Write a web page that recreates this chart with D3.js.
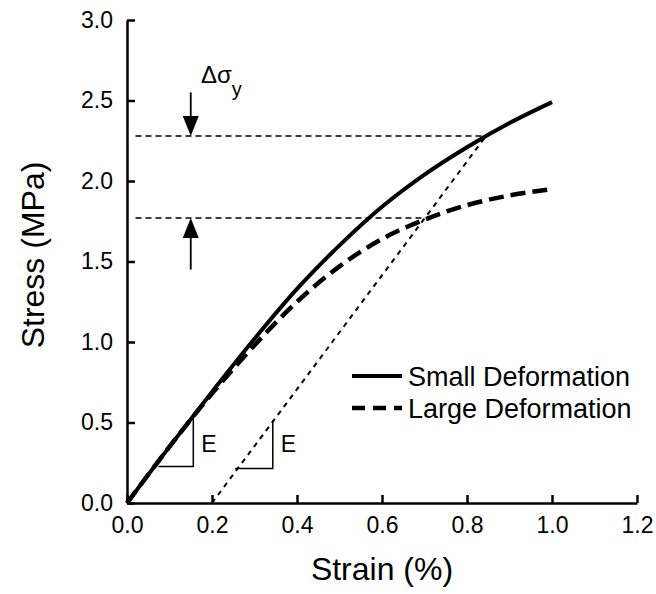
<!DOCTYPE html>
<html>
<head>
<meta charset="utf-8">
<script src="https://cdn.jsdelivr.net/npm/d3@7"></script>
<style>
  body { margin: 0; background: #fff; }
  text { font-family: "Liberation Sans", Arial, Helvetica, sans-serif; fill: #000; }
</style>
</head>
<body>
<div id="chart"></div>
<script>
// strain (%) sample points
const strain = [0, 0.1, 0.2, 0.3, 0.4, 0.5, 0.6, 0.7, 0.8, 0.9, 1.0];
// stress (MPa) for each curve
const stressSmall = [0, 0.35, 0.69, 1.02, 1.33, 1.60, 1.84, 2.04, 2.21, 2.36, 2.49];
const stressLarge = [0, 0.35, 0.68, 0.98, 1.25, 1.47, 1.64, 1.76, 1.85, 1.91, 1.95];

const xTicks = [0, 0.2, 0.4, 0.6, 0.8, 1.0, 1.2];
const yTicks = [0, 0.5, 1.0, 1.5, 2.0, 2.5, 3.0];

// yield levels and offset (0.2%) line
const yieldLevels = [2.28, 1.77];
const offsetLine = [[0.2, 0], [0.845, 2.28]];
const yieldEnds = [0.845, 0.70];
// modulus triangles: [x0, x1, y0, y1]
const modTriangles = [[0.074, 0.156, 0.226, 0.527], [0.254, 0.343, 0.215, 0.516]];
// arrows (strain, from, to)
const arrows = [[0.15, 2.55, 2.28], [0.15, 1.45, 1.77]];

const width = 656, height = 594;
const margin = {left: 127, top: 20, right: 19, bottom: 91};
const w = width - margin.left - margin.right;
const h = height - margin.top - margin.bottom;

const svg = d3.select("#chart").append("svg")
    .attr("width", width)
    .attr("height", height);

const g = svg.append("g")
    .attr("transform", `translate(${margin.left},${margin.top})`);

const x = d3.scaleLinear().domain([0, 1.2]).range([0, w]);
const y = d3.scaleLinear().domain([0, 3.0]).range([h, 0]);

// axes
const xAxis = g.append("g")
    .attr("transform", `translate(0,${h})`)
    .call(d3.axisBottom(x).tickValues(xTicks).tickFormat(d3.format(".1f"))
        .tickSizeInner(-8).tickSizeOuter(0).tickPadding(14));
const yAxis = g.append("g")
    .call(d3.axisLeft(y).tickValues(yTicks).tickFormat(d3.format(".1f"))
        .tickSizeInner(-8).tickSizeOuter(0).tickPadding(14));

[xAxis, yAxis].forEach(a => {
    a.select(".domain").attr("stroke", "#000").attr("stroke-width", 2.5);
    a.selectAll(".tick line").attr("stroke", "#000").attr("stroke-width", 2.5);
    a.selectAll(".tick text")
        .style("font-family", '"Liberation Sans", Arial, sans-serif')
        .style("font-size", "23px").attr("fill", "#000");
});

// axis titles
svg.append("text")
    .attr("x", margin.left + x(0.6))
    .attr("y", 580)
    .attr("text-anchor", "middle")
    .style("font-size", "32px")
    .text("Strain (%)");

svg.append("text")
    .attr("transform", "translate(44,255) rotate(-90)")
    .attr("text-anchor", "middle")
    .style("font-size", "32px")
    .text("Stress (MPa)");

// horizontal yield lines
g.selectAll(".yield")
    .data(yieldLevels)
    .enter().append("line")
    .attr("x1", x(0.02))
    .attr("x2", (d, i) => x(yieldEnds[i]))
    .attr("y1", d => y(d))
    .attr("y2", d => y(d))
    .attr("stroke", "#000")
    .attr("stroke-width", 1.5)
    .attr("stroke-dasharray", "6,4");

// offset line
g.append("line")
    .attr("x1", x(offsetLine[0][0])).attr("y1", y(offsetLine[0][1]))
    .attr("x2", x(offsetLine[1][0])).attr("y2", y(offsetLine[1][1]))
    .attr("stroke", "#000")
    .attr("stroke-width", 2)
    .attr("stroke-dasharray", "5,5");

// modulus triangles
modTriangles.forEach(t => {
    g.append("path")
        .attr("d", `M${x(t[0])},${y(t[2])}H${x(t[1])}V${y(t[3])}`)
        .attr("fill", "none")
        .attr("stroke", "#000")
        .attr("stroke-width", 1.5);
    g.append("text")
        .attr("x", x(t[1]) + 8)
        .attr("y", 452 - margin.top)
        .style("font-size", "23px")
        .text("E");
});

// curves
const line = d3.line()
    .x((d, i) => x(strain[i]))
    .y(d => y(d))
    .curve(d3.curveCatmullRom);

g.append("path")
    .datum(stressLarge)
    .attr("d", line)
    .attr("fill", "none")
    .attr("stroke", "#000")
    .attr("stroke-width", 4.5)
    .attr("stroke-dasharray", "15,7");

g.append("path")
    .datum(stressSmall)
    .attr("d", line)
    .attr("fill", "none")
    .attr("stroke", "#000")
    .attr("stroke-width", 4);

// arrows
arrows.forEach(a => {
    const ax = x(a[0]), y0 = y(a[1]), y1 = y(a[2]);
    const dir = y1 > y0 ? 1 : -1;
    const headLen = 20, headW = 8;
    g.append("line")
        .attr("x1", ax).attr("x2", ax)
        .attr("y1", y0).attr("y2", y1 - dir * headLen)
        .attr("stroke", "#000").attr("stroke-width", 1.8);
    g.append("path")
        .attr("d", `M${ax},${y1}L${ax - headW},${y1 - dir * headLen}L${ax + headW},${y1 - dir * headLen}Z`)
        .attr("fill", "#000");
});

// delta sigma label
const ds = svg.append("text")
    .attr("x", 201)
    .attr("y", 83)
    .style("font-size", "24px");
ds.append("tspan").text("Δσ");
ds.append("tspan").attr("dy", 13).style("font-size", "20px").text("y");

// legend
const legend = svg.append("g");
const legendItems = [
    {label: "Small Deformation", dash: null, sw: 4, y: 376},
    {label: "Large Deformation", dash: "13,8", sw: 4.5, y: 408}
];
legendItems.forEach(it => {
    legend.append("line")
        .attr("x1", 352).attr("x2", 402)
        .attr("y1", it.y).attr("y2", it.y)
        .attr("stroke", "#000")
        .attr("stroke-width", it.sw)
        .attr("stroke-dasharray", it.dash);
    legend.append("text")
        .attr("x", 408)
        .attr("y", it.y + 10)
        .style("font-size", "27px")
        .text(it.label);
});
</script>
</body>
</html>
